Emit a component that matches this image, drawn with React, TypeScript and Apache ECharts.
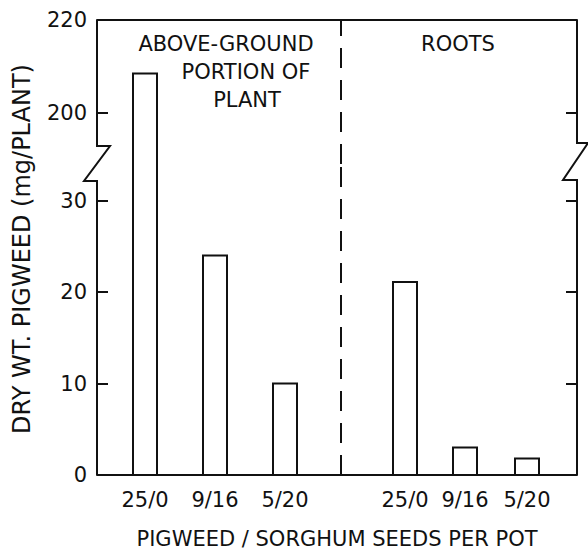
import { useEffect, useRef } from "react";
import * as echarts from "echarts";

// ---- data ----
const categories = ["25/0", "9/16", "5/20"];
const aboveGround = [208.5, 24, 10];
const roots = [21.1, 3, 1.8];
const upperTickValues = [200, 220];
const lowerTickValues = [0, 10, 20, 30];
// x positions (axis units) of the bar groups and of the divider
const aboveSlots = [4.8, 11.8, 18.8];
const rootSlots = [30.8, 36.8, 43.0];
const dividerSlot = 24.4;

// ---- layout ----
const W = 588;
const H = 551;
const L = 97;
const R = 577;
const T = 20;
const B = 475;
const SPLIT = 164;
const UPPER_MIN = 189;
const UPPER_MAX = 220;
const LOWER_MIN = 0;
const LOWER_MAX = 34;
const X_MAX = 48;
const BAR_W = 24;
const FONT = "DejaVu Sans";
const INK = "#111";

const labelFor = (v: number) => {
  const all = [...aboveSlots, ...rootSlots];
  const i = all.findIndex((s) => Math.abs(s - v) < 0.01);
  return i < 0 ? "" : categories[i % 3];
};

const renderBar = (_params: any, api: any) => {
  const x = api.value(0);
  const v = api.value(1);
  const base = api.coord([x, 0]);
  const top = api.coord([x, v]);
  const h = BAR_W / 2;
  return {
    type: "polyline",
    shape: {
      points: [
        [base[0] - h, base[1]],
        [top[0] - h, top[1]],
        [top[0] + h, top[1]],
        [base[0] + h, base[1]],
      ],
    },
    style: { fill: null, stroke: INK, lineWidth: 2 },
  };
};

const divider = {
  silent: true,
  symbol: "none",
  label: { show: false },
  lineStyle: { color: INK, width: 2, type: [20, 12] },
  data: [{ xAxis: dividerSlot }],
};

export default function App() {
  const ref = useRef<HTMLDivElement>(null);
  useEffect(() => {
    if (!ref.current) return;
    const chart = echarts.init(ref.current, undefined, { renderer: "svg" });

    const yAxisCommon = (min: number, max: number, gridIndex: number, position: string, labels: number[] | null, ticks: number[]) => ({
      type: "value",
      gridIndex,
      position,
      min,
      max,
      axisLine: { show: false },
      splitLine: { show: false },
      axisTick: {
        show: true,
        inside: true,
        length: 11,
        customValues: ticks,
        lineStyle: { color: INK, width: 2 },
      },
      axisLabel: labels
        ? {
            show: true,
            customValues: labels,
            margin: 10,
            color: INK,
            fontFamily: FONT,
            fontSize: 21,
            showMinLabel: true,
            showMaxLabel: true,
          }
        : { show: false },
    });

    const leftZig = [
      [L, T],
      [L, 146],
      [L + 13, 146],
      [L - 13, 181],
      [L, 181],
      [L, B],
    ];
    const rightZig = [
      [R, T],
      [R, 143],
      [R + 11, 143],
      [R - 14, 180],
      [R, 180],
      [R, B],
    ];

    const mkData = (slots: number[], vals: number[]) => slots.map((s, i) => [s, vals[i]]);

    chart.setOption({
      animation: false,
      backgroundColor: "#fff",
      textStyle: { fontFamily: FONT },
      grid: [
        { left: L, top: T, width: R - L, height: SPLIT - T, outerBoundsMode: "none", containLabel: false },
        { left: L, top: SPLIT, width: R - L, height: B - SPLIT, outerBoundsMode: "none", containLabel: false },
      ],
      xAxis: [
        {
          type: "value",
          gridIndex: 0,
          position: "top",
          min: 0,
          max: X_MAX,
          axisLine: { show: true, onZero: false, lineStyle: { color: INK, width: 2 } },
          axisTick: { show: false },
          axisLabel: { show: false },
          splitLine: { show: false },
        },
        {
          type: "value",
          gridIndex: 1,
          position: "bottom",
          min: 0,
          max: X_MAX,
          axisLine: { show: true, onZero: false, lineStyle: { color: INK, width: 2 } },
          axisTick: { show: false },
          splitLine: { show: false },
          axisLabel: {
            show: true,
            customValues: [...aboveSlots, ...rootSlots],
            formatter: (v: number) => labelFor(v),
            margin: 14,
            color: INK,
            fontFamily: FONT,
            fontSize: 21,
          },
          name: "PIGWEED / SORGHUM SEEDS PER POT",
          nameLocation: "middle",
          nameGap: 53,
          nameTextStyle: { color: INK, fontFamily: FONT, fontSize: 21 },
        },
      ],
      yAxis: [
        yAxisCommon(UPPER_MIN, UPPER_MAX, 0, "left", upperTickValues, [200]),
        yAxisCommon(UPPER_MIN, UPPER_MAX, 0, "right", null, [200]),
        yAxisCommon(LOWER_MIN, LOWER_MAX, 1, "left", lowerTickValues, [10, 20, 30]),
        yAxisCommon(LOWER_MIN, LOWER_MAX, 1, "right", null, [10, 20, 30]),
      ],
      series: [
        { name: "Above-ground", type: "custom", xAxisIndex: 0, yAxisIndex: 0, clip: true, renderItem: renderBar, data: mkData(aboveSlots, aboveGround), encode: { x: 0, y: 1 }, markLine: divider },
        { name: "Roots", type: "custom", xAxisIndex: 0, yAxisIndex: 0, clip: true, renderItem: renderBar, data: mkData(rootSlots, roots), encode: { x: 0, y: 1 } },
        { name: "Above-ground", type: "custom", xAxisIndex: 1, yAxisIndex: 2, clip: true, renderItem: renderBar, data: mkData(aboveSlots, aboveGround), encode: { x: 0, y: 1 }, markLine: divider },
        { name: "Roots", type: "custom", xAxisIndex: 1, yAxisIndex: 2, clip: true, renderItem: renderBar, data: mkData(rootSlots, roots), encode: { x: 0, y: 1 } },
      ],
      graphic: [
        { type: "polyline", shape: { points: leftZig }, style: { fill: null, stroke: INK, lineWidth: 2 }, z: 10 },
        { type: "polyline", shape: { points: rightZig }, style: { fill: null, stroke: INK, lineWidth: 2 }, z: 10 },
        {
          type: "text",
          x: 22,
          y: 249,
          rotation: Math.PI / 2,
          style: { text: "DRY WT. PIGWEED (mg/PLANT)", fill: INK, font: `24px "${FONT}"`, align: "center", verticalAlign: "middle" },
        },
        { type: "text", x: 226, y: 44, style: { text: "ABOVE-GROUND", fill: INK, font: `21px "${FONT}"`, align: "center", verticalAlign: "middle" } },
        { type: "text", x: 246, y: 72, style: { text: "PORTION OF", fill: INK, font: `21px "${FONT}"`, align: "center", verticalAlign: "middle" } },
        { type: "text", x: 247, y: 100, style: { text: "PLANT", fill: INK, font: `21px "${FONT}"`, align: "center", verticalAlign: "middle" } },
        { type: "text", x: 458, y: 44, style: { text: "ROOTS", fill: INK, font: `21px "${FONT}"`, align: "center", verticalAlign: "middle" } },
      ],
    });
    return () => chart.dispose();
  }, []);
  return <div ref={ref} style={{ position: "fixed", left: 0, top: 0, width: W, height: H }} />;
}
